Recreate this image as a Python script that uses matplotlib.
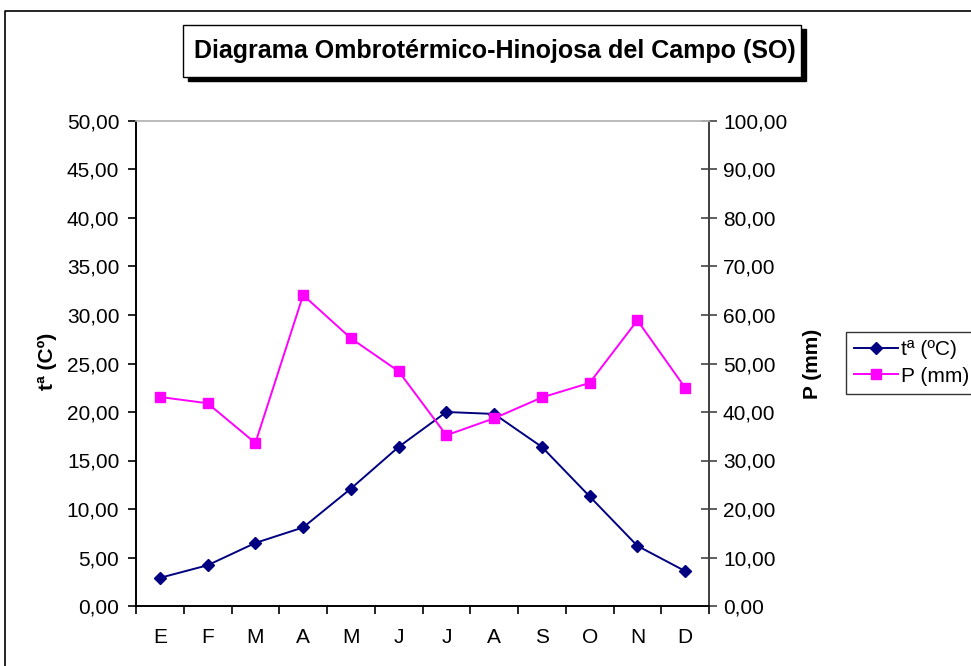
import matplotlib.pyplot as plt
import numpy as np
from matplotlib.lines import Line2D
from matplotlib.patches import Rectangle
from matplotlib.ticker import FuncFormatter, FixedLocator

plt.rcParams['font.family'] = ['Liberation Sans', 'DejaVu Sans']

# Monthly climate data, Hinojosa del Campo (Soria)
months = ['E', 'F', 'M', 'A', 'M', 'J', 'J', 'A', 'S', 'O', 'N', 'D']
temp_c = [2.9, 4.2, 6.5, 8.1, 12.1, 16.4, 20.0, 19.8, 16.4, 11.3, 6.2, 3.6]
precip_mm = [43.1, 41.8, 33.6, 64.1, 55.2, 48.4, 35.2, 38.7, 43.0, 46.0, 58.9, 45.0]

temp_ticks = np.arange(0, 51, 5)
precip_ticks = np.arange(0, 101, 10)


def comma_fmt(v, pos=None):
    return f'{v:.2f}'.replace('.', ',')


fig = plt.figure(figsize=(9.71, 6.66), dpi=100)
ax = fig.add_axes([136 / 971, 1 - 606 / 666, 573 / 971, 485 / 666])
ax2 = ax.twinx()

x = np.arange(len(months))
ax.plot(x, temp_c, '-D', color='#000080', lw=1.4, markersize=6.5,
        label='tª (ºC)', zorder=3, clip_on=False)
ax2.plot(x, precip_mm, '-s', color='#FF00FF', lw=1.4, markersize=7.5,
         label='P (mm)', zorder=3, clip_on=False)

ax.set_xlim(-0.5, len(months) - 0.5)
ax.set_ylim(0, 50)
ax2.set_ylim(0, 100)

# month letters centred, tick marks between categories
ax.xaxis.set_major_locator(FixedLocator(x))
ax.set_xticklabels(months)
ax.xaxis.set_minor_locator(FixedLocator(np.arange(-0.5, len(months), 1.0)))
ax.tick_params(axis='x', which='major', length=0, pad=16, labelsize=15)
ax.tick_params(axis='x', which='minor', length=6, width=1.2, direction='out')

ax.set_yticks(temp_ticks)
ax.yaxis.set_major_formatter(FuncFormatter(comma_fmt))
ax.tick_params(axis='y', length=6, width=1.2, direction='out', pad=6,
               labelsize=15, colors='black')
ax2.set_yticks(precip_ticks)
ax2.yaxis.set_major_formatter(FuncFormatter(comma_fmt))
ax2.tick_params(axis='y', length=12, width=1.2, direction='inout', pad=4,
                labelsize=15, color='#444444', labelcolor='black')

for a in (ax, ax2):
    a.spines['top'].set_color('#bbbbbb')
    a.spines['top'].set_linewidth(1.2)
    a.spines['left'].set_linewidth(1.2)
    a.spines['bottom'].set_linewidth(1.2)
    a.spines['right'].set_linewidth(1.4)
    a.spines['right'].set_color('#444444')

ax.set_ylabel('tª (Cº)', fontsize=15, fontweight='bold')
ax.yaxis.set_label_coords(-0.137, 0.505)
ax2.set_ylabel('P (mm)', fontsize=15, fontweight='bold')
ax2.yaxis.set_label_coords(1.164, 0.5)

# legend box sitting at the right edge of the sheet
handles = [Line2D([], [], color='#000080', marker='D', lw=1.4, markersize=6),
           Line2D([], [], color='#FF00FF', marker='s', lw=1.4, markersize=7)]
fig.legend(handles, ['tª (ºC)', 'P (mm)'], loc='upper left',
           bbox_to_anchor=(846 / 971, 1 - 332 / 666), frameon=True,
           fancybox=False, edgecolor='black', fontsize=15, handlelength=2.1,
           handletextpad=0.15, labelspacing=0.35, borderpad=0.4,
           borderaxespad=0).get_frame().set_linewidth(1.0)

# title with drop-shadow box
fig.patches.append(Rectangle((188 / 971, 1 - 81 / 666), 618 / 971, 52 / 666,
                             transform=fig.transFigure, facecolor='black',
                             edgecolor='black', zorder=1))
fig.patches.append(Rectangle((183 / 971, 1 - 77 / 666), 618 / 971, 52 / 666,
                             transform=fig.transFigure, facecolor='white',
                             edgecolor='black', lw=1.0, zorder=2))
fig.text(495 / 971, 1 - 51 / 666, 'Diagrama Ombrotérmico-Hinojosa del Campo (SO)',
         ha='center', va='center', fontsize=18, fontweight='bold', zorder=3)

# sheet frame
fig.lines.append(Line2D([5 / 971, 5 / 971, 1.0], [0.0, 1 - 11 / 666, 1 - 11 / 666],
                        transform=fig.transFigure, color='black', lw=1.2))

fig.savefig('out.png', dpi=100)
